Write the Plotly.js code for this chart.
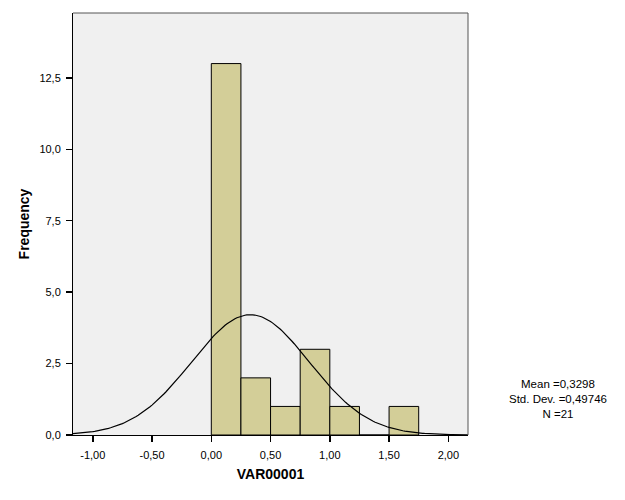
<!DOCTYPE html>
<html>
<head>
<meta charset="utf-8">
<script src="https://cdn.plot.ly/plotly-3.0.1.min.js"></script>
<style>html,body{margin:0;padding:0;background:#fff;}#chart{width:625px;height:500px;}</style>
</head>
<body>
<div id="chart"></div>
<script>
// Histogram bins (lower edges) and frequencies
const binStarts = [0.00, 0.25, 0.50, 0.75, 1.00, 1.25, 1.50];
const frequencies = [13, 2, 1, 3, 1, 0, 1];
const binWidth = 0.25;
// Summary statistics printed on the chart
const statMean = 0.3298;
const statSD = 0.49746;
const statN = 21;
const xTickVals = [-1, -0.5, 0, 0.5, 1, 1.5, 2];
const yTickVals = [0, 2.5, 5, 7.5, 10, 12.5];

const xRange = [-1.167, 2.166];
const yRange = [0, 14.77];

const barX = binStarts.map(b => b + binWidth / 2);

// Fitted normal curve defined by the printed Mean / Std. Dev. / N
const curveX = [], curveY = [];
const steps = 200;
for (let i = 0; i <= steps; i++) {
  const x = xRange[0] + (xRange[1] - xRange[0]) * i / steps;
  const z = (x - statMean) / statSD;
  curveX.push(x);
  curveY.push(statN * binWidth / (statSD * Math.sqrt(2 * Math.PI)) * Math.exp(-0.5 * z * z));
}

const fmt = (v, d) => v.toFixed(d).replace('.', ',');

const traces = [
  {
    type: 'bar', x: barX, y: frequencies, width: binWidth,
    marker: {color: '#d3ce98', line: {color: '#000', width: 1}},
    hoverinfo: 'skip', showlegend: false
  },
  {
    type: 'scatter', mode: 'lines', x: curveX, y: curveY,
    line: {color: '#000', width: 1.2},
    hoverinfo: 'skip', showlegend: false
  }
];

const layout = {
  width: 625, height: 500,
  margin: {l: 73, r: 157, t: 13, b: 65, pad: 0},
  paper_bgcolor: '#ffffff',
  plot_bgcolor: '#f0f0f0',
  font: {family: 'Liberation Sans, Arial, sans-serif', size: 11, color: '#000'},
  bargap: 0,
  xaxis: {
    range: xRange, showgrid: false, zeroline: false,
    tickvals: xTickVals, ticktext: xTickVals.map(v => fmt(v, 2)),
    ticks: 'outside', ticklen: 6, tickwidth: 1.5, tickcolor: '#000',
    showline: true, linecolor: '#000', linewidth: 1,
    tickfont: {size: 11}, ticklabelstandoff: 4,
    title: {text: '<b>VAR00001</b>', font: {size: 14}, standoff: 8}
  },
  yaxis: {
    range: yRange, showgrid: false, zeroline: false,
    tickvals: yTickVals, ticktext: yTickVals.map(v => fmt(v, 1)),
    ticks: 'outside', ticklen: 6, tickwidth: 1.5, tickcolor: '#000',
    showline: true, linecolor: '#000', linewidth: 1,
    tickfont: {size: 11}, ticklabelstandoff: 3,
    title: {text: '<b>Frequency</b>', font: {size: 14}, standoff: 6}
  },
  shapes: [
    {type: 'line', xref: 'paper', yref: 'paper', x0: 0, x1: 1, y0: 1, y1: 1, line: {color: '#555', width: 1}},
    {type: 'line', xref: 'paper', yref: 'paper', x0: 1, x1: 1, y0: 0, y1: 1, line: {color: '#555', width: 1}}
  ],
  annotations: [
    {
      xref: 'paper', yref: 'paper', x: 1.228, y: 0.03, xanchor: 'center', yanchor: 'bottom',
      text: 'Mean =' + fmt(statMean, 4) + '<br>Std. Dev. =' + fmt(statSD, 5) + '<br>N =' + statN,
      showarrow: false, align: 'center', font: {size: 11.5, color: '#000'}
    }
  ]
};

Plotly.newPlot('chart', traces, layout, {displayModeBar: false, staticPlot: true});
</script>
</body>
</html>
